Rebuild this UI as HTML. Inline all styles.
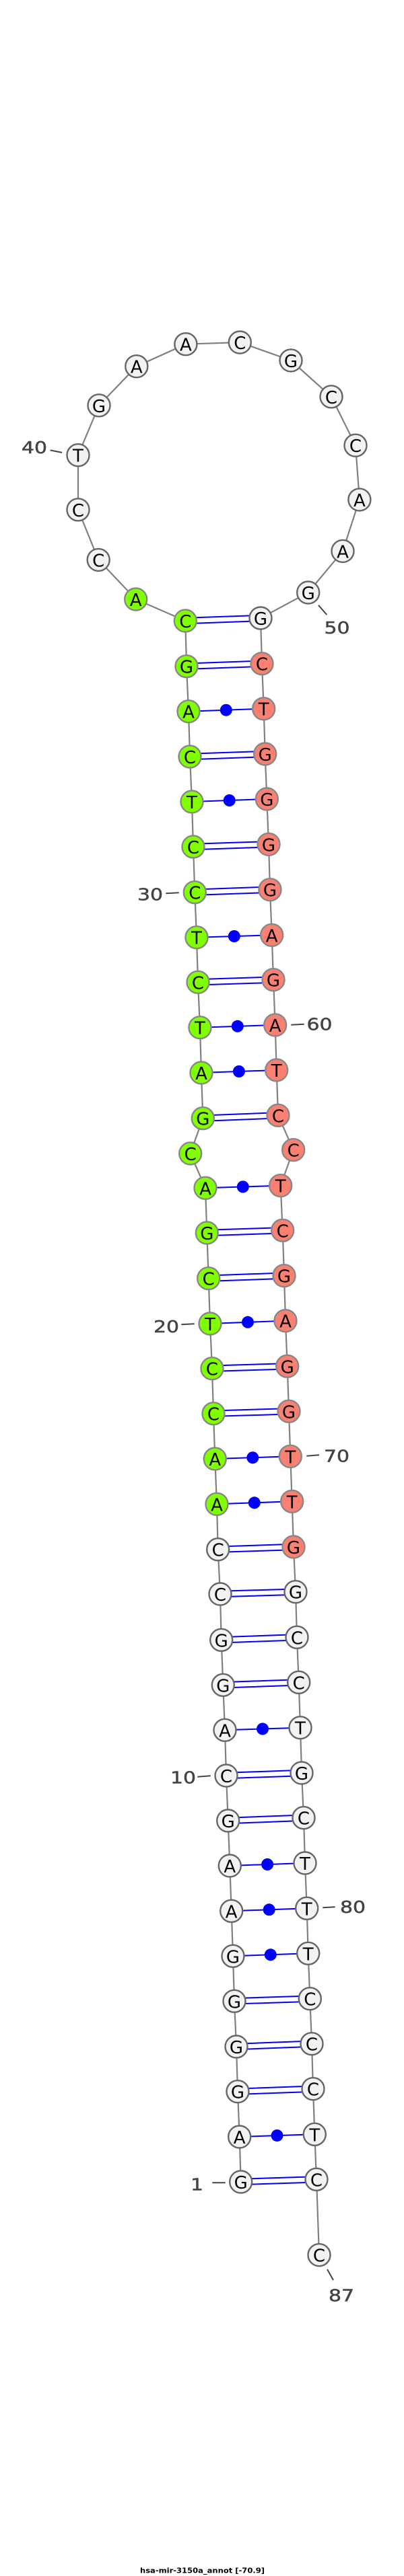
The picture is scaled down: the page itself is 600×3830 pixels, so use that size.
<!DOCTYPE html>
<html><head><meta charset="utf-8"><style>
html,body{margin:0;padding:0;background:#fff}
svg{display:block}
.g{fill:#7fff00;stroke:#888;stroke-width:2.4}
.s{fill:#fa8072;stroke:#888;stroke-width:2.4}
.w{fill:#f2f2f2;stroke:#666;stroke-width:2.4}
.n{font:26px "DejaVu Sans",sans-serif;fill:#000;text-anchor:middle}
.l{font:25px "DejaVu Sans",sans-serif;fill:#444;stroke:#444;stroke-width:.5}
.t{stroke:#444;stroke-width:2;fill:none}
.b{stroke:#00f;stroke-width:2;fill:none}
.d{fill:#00f}
</style></head><body>
<svg width="600" height="3830" viewBox="0 0 600 3830" xmlns="http://www.w3.org/2000/svg">
<polyline fill="none" stroke="#808080" stroke-width="2.2" points="357.7,3244 355.7,3177 353,3109.7 351,3043 348,2975.3 346,2908.3 343.7,2841.3 341.3,2774 338.7,2707 336,2640 334,2572.3 331.3,2505.3 328.7,2438.3 327,2370 323.7,2303.7 322,2236.3 319.3,2169 317,2101.7 315,2034.7 312,1968 309.7,1900.7 307.3,1833 305,1766.3 282.7,1715 301.3,1662.7 299,1595 297,1527.7 294,1460.3 292,1393.7 289.3,1326.7 287,1259 285,1192 282,1125 280,1057.7 277,990.7 275.3,923 201.7,891 146.2,832.4 116,757.8 116,676.7 147,602.8 202.8,544.7 275.9,511.7 356.3,509 432,535.9 492,589.8 528,662.2 533.9,742.9 509,819.4 457.7,881 387,919 389,986.7 391.7,1053.7 393.7,1121 396.3,1188 399,1255.3 401,1322.7 403.7,1390.3 406,1456.7 408.7,1524 410.7,1591 413,1658.3 435.7,1709.7 416.7,1762.7 419.7,1829.3 422,1896.7 424,1963.7 426.7,2031.3 429,2098.3 431.3,2165.3 433.7,2232.3 436,2300 439,2366.7 441,2434.3 443.7,2501.3 446,2568.7 448,2636 451,2702.7 453,2770 455.7,2837.3 457.7,2904.3 460.3,2971.7 463,3038.7 465,3105.7 467.3,3173.3 470,3240.3 474,3352.7"/>
<path class="b" d="M275.3 918.8L387 914.8M275.3 927.2L387 923.2
M277 986.5L389 982.5M277 994.9L389 990.9
M280 1057.7L391.7 1053.7
M282 1120.8L393.7 1116.8M282 1129.2L393.7 1125.2
M285 1192L396.3 1188
M287 1254.8L399 1251.1M287 1263.2L399 1259.5
M289.3 1322.5L401 1318.5M289.3 1330.9L401 1326.9
M292 1393.7L403.7 1390.3
M294 1456.1L406 1452.5M294 1464.5L406 1460.9
M297 1527.7L408.7 1524
M299 1595L410.7 1591
M301.3 1658.5L413 1654.1M301.3 1666.9L413 1662.5
M305 1766.3L416.7 1762.7
M307.3 1828.8L419.7 1825.1M307.3 1837.2L419.7 1833.5
M309.7 1896.5L422 1892.5M309.7 1904.9L422 1900.9
M312 1968L424 1963.7
M315 2030.5L426.7 2027.1M315 2038.9L426.7 2035.5
M317 2097.5L429 2094.1M317 2105.9L429 2102.5
M319.3 2169L431.3 2165.3
M322 2236.3L433.7 2232.3
M323.7 2299.5L436 2295.8M323.7 2307.9L436 2304.2
M327 2365.8L439 2362.5M327 2374.2L439 2370.9
M328.7 2434.1L441 2430.1M328.7 2442.5L441 2438.5
M331.3 2501.1L443.7 2497.1M331.3 2509.5L443.7 2505.5
M334 2572.3L446 2568.7
M336 2635.8L448 2631.8M336 2644.2L448 2640.2
M338.7 2702.8L451 2698.5M338.7 2711.2L451 2706.9
M341.3 2774L453 2770
M343.7 2841.3L455.7 2837.3
M346 2908.3L457.7 2904.3
M348 2971.1L460.3 2967.5M348 2979.5L460.3 2975.9
M351 3038.8L463 3034.5M351 3047.2L463 3042.9
M353 3105.5L465 3101.5M353 3113.9L465 3109.9
M355.7 3177L467.3 3173.3
M357.7 3239.8L470 3236.1M357.7 3248.2L470 3244.5"/>
<g class="d">
<circle cx="335.8" cy="1055.7" r="9"/>
<circle cx="340.7" cy="1190" r="9"/>
<circle cx="347.8" cy="1392" r="9"/>
<circle cx="352.8" cy="1525.8" r="9"/>
<circle cx="354.9" cy="1593" r="9"/>
<circle cx="360.8" cy="1764.5" r="9"/>
<circle cx="368" cy="1965.8" r="9"/>
<circle cx="375.3" cy="2167.2" r="9"/>
<circle cx="377.8" cy="2234.3" r="9"/>
<circle cx="390" cy="2570.5" r="9"/>
<circle cx="397.1" cy="2772" r="9"/>
<circle cx="399.7" cy="2839.3" r="9"/>
<circle cx="401.8" cy="2906.3" r="9"/>
<circle cx="411.5" cy="3175.1" r="9"/>
</g>
<g>
<circle class="g" cx="201.7" cy="891" r="16.5"/>
<circle class="w" cx="146.2" cy="832.4" r="16.5"/>
<circle class="w" cx="116" cy="757.8" r="16.5"/>
<circle class="w" cx="116" cy="676.7" r="16.5"/>
<circle class="w" cx="147" cy="602.8" r="16.5"/>
<circle class="w" cx="202.8" cy="544.7" r="16.5"/>
<circle class="w" cx="275.9" cy="511.7" r="16.5"/>
<circle class="w" cx="356.3" cy="509" r="16.5"/>
<circle class="w" cx="432" cy="535.9" r="16.5"/>
<circle class="w" cx="492" cy="589.8" r="16.5"/>
<circle class="w" cx="528" cy="662.2" r="16.5"/>
<circle class="w" cx="533.9" cy="742.9" r="16.5"/>
<circle class="w" cx="509" cy="819.4" r="16.5"/>
<circle class="w" cx="457.7" cy="881" r="16.5"/>
<circle class="w" cx="387" cy="919" r="16.5"/>
<circle class="g" cx="275.3" cy="923" r="16.5"/>
<circle class="g" cx="277" cy="990.7" r="16.5"/>
<circle class="s" cx="389" cy="986.7" r="16.5"/>
<circle class="g" cx="280" cy="1057.7" r="16.5"/>
<circle class="s" cx="391.7" cy="1053.7" r="16.5"/>
<circle class="g" cx="282" cy="1125" r="16.5"/>
<circle class="s" cx="393.7" cy="1121" r="16.5"/>
<circle class="g" cx="285" cy="1192" r="16.5"/>
<circle class="s" cx="396.3" cy="1188" r="16.5"/>
<circle class="g" cx="287" cy="1259" r="16.5"/>
<circle class="s" cx="399" cy="1255.3" r="16.5"/>
<circle class="g" cx="289.3" cy="1326.7" r="16.5"/>
<circle class="s" cx="401" cy="1322.7" r="16.5"/>
<circle class="g" cx="292" cy="1393.7" r="16.5"/>
<circle class="s" cx="403.7" cy="1390.3" r="16.5"/>
<circle class="g" cx="294" cy="1460.3" r="16.5"/>
<circle class="s" cx="406" cy="1456.7" r="16.5"/>
<circle class="g" cx="297" cy="1527.7" r="16.5"/>
<circle class="s" cx="408.7" cy="1524" r="16.5"/>
<circle class="g" cx="299" cy="1595" r="16.5"/>
<circle class="s" cx="410.7" cy="1591" r="16.5"/>
<circle class="g" cx="301.3" cy="1662.7" r="16.5"/>
<circle class="s" cx="413" cy="1658.3" r="16.5"/>
<circle class="g" cx="282.7" cy="1715" r="16.5"/>
<circle class="s" cx="435.7" cy="1709.7" r="16.5"/>
<circle class="g" cx="305" cy="1766.3" r="16.5"/>
<circle class="s" cx="416.7" cy="1762.7" r="16.5"/>
<circle class="g" cx="307.3" cy="1833" r="16.5"/>
<circle class="s" cx="419.7" cy="1829.3" r="16.5"/>
<circle class="g" cx="309.7" cy="1900.7" r="16.5"/>
<circle class="s" cx="422" cy="1896.7" r="16.5"/>
<circle class="g" cx="312" cy="1968" r="16.5"/>
<circle class="s" cx="424" cy="1963.7" r="16.5"/>
<circle class="g" cx="315" cy="2034.7" r="16.5"/>
<circle class="s" cx="426.7" cy="2031.3" r="16.5"/>
<circle class="g" cx="317" cy="2101.7" r="16.5"/>
<circle class="s" cx="429" cy="2098.3" r="16.5"/>
<circle class="g" cx="319.3" cy="2169" r="16.5"/>
<circle class="s" cx="431.3" cy="2165.3" r="16.5"/>
<circle class="g" cx="322" cy="2236.3" r="16.5"/>
<circle class="s" cx="433.7" cy="2232.3" r="16.5"/>
<circle class="w" cx="323.7" cy="2303.7" r="16.5"/>
<circle class="s" cx="436" cy="2300" r="16.5"/>
<circle class="w" cx="327" cy="2370" r="16.5"/>
<circle class="w" cx="439" cy="2366.7" r="16.5"/>
<circle class="w" cx="328.7" cy="2438.3" r="16.5"/>
<circle class="w" cx="441" cy="2434.3" r="16.5"/>
<circle class="w" cx="331.3" cy="2505.3" r="16.5"/>
<circle class="w" cx="443.7" cy="2501.3" r="16.5"/>
<circle class="w" cx="334" cy="2572.3" r="16.5"/>
<circle class="w" cx="446" cy="2568.7" r="16.5"/>
<circle class="w" cx="336" cy="2640" r="16.5"/>
<circle class="w" cx="448" cy="2636" r="16.5"/>
<circle class="w" cx="338.7" cy="2707" r="16.5"/>
<circle class="w" cx="451" cy="2702.7" r="16.5"/>
<circle class="w" cx="341.3" cy="2774" r="16.5"/>
<circle class="w" cx="453" cy="2770" r="16.5"/>
<circle class="w" cx="343.7" cy="2841.3" r="16.5"/>
<circle class="w" cx="455.7" cy="2837.3" r="16.5"/>
<circle class="w" cx="346" cy="2908.3" r="16.5"/>
<circle class="w" cx="457.7" cy="2904.3" r="16.5"/>
<circle class="w" cx="348" cy="2975.3" r="16.5"/>
<circle class="w" cx="460.3" cy="2971.7" r="16.5"/>
<circle class="w" cx="351" cy="3043" r="16.5"/>
<circle class="w" cx="463" cy="3038.7" r="16.5"/>
<circle class="w" cx="353" cy="3109.7" r="16.5"/>
<circle class="w" cx="465" cy="3105.7" r="16.5"/>
<circle class="w" cx="355.7" cy="3177" r="16.5"/>
<circle class="w" cx="467.3" cy="3173.3" r="16.5"/>
<circle class="w" cx="357.7" cy="3244" r="16.5"/>
<circle class="w" cx="470" cy="3240.3" r="16.5"/>
<circle class="w" cx="474" cy="3352.7" r="16.5"/>
</g>
<g>
<text class="n" x="201.7" y="901">A</text>
<text class="n" x="146.2" y="842.4">C</text>
<text class="n" x="116" y="767.8">C</text>
<text class="n" x="116" y="686.7">T</text>
<text class="n" x="147" y="612.8">G</text>
<text class="n" x="202.8" y="554.7">A</text>
<text class="n" x="275.9" y="521.7">A</text>
<text class="n" x="356.3" y="519">C</text>
<text class="n" x="432" y="545.9">G</text>
<text class="n" x="492" y="599.8">C</text>
<text class="n" x="528" y="672.2">C</text>
<text class="n" x="533.9" y="752.9">A</text>
<text class="n" x="509" y="829.4">A</text>
<text class="n" x="457.7" y="891">G</text>
<text class="n" x="387" y="929">G</text>
<text class="n" x="275.3" y="933">C</text>
<text class="n" x="277" y="1000.7">G</text>
<text class="n" x="389" y="996.7">C</text>
<text class="n" x="280" y="1067.7">A</text>
<text class="n" x="391.7" y="1063.7">T</text>
<text class="n" x="282" y="1135">C</text>
<text class="n" x="393.7" y="1131">G</text>
<text class="n" x="285" y="1202">T</text>
<text class="n" x="396.3" y="1198">G</text>
<text class="n" x="287" y="1269">C</text>
<text class="n" x="399" y="1265.3">G</text>
<text class="n" x="289.3" y="1336.7">C</text>
<text class="n" x="401" y="1332.7">G</text>
<text class="n" x="292" y="1403.7">T</text>
<text class="n" x="403.7" y="1400.3">A</text>
<text class="n" x="294" y="1470.3">C</text>
<text class="n" x="406" y="1466.7">G</text>
<text class="n" x="297" y="1537.7">T</text>
<text class="n" x="408.7" y="1534">A</text>
<text class="n" x="299" y="1605">A</text>
<text class="n" x="410.7" y="1601">T</text>
<text class="n" x="301.3" y="1672.7">G</text>
<text class="n" x="413" y="1668.3">C</text>
<text class="n" x="282.7" y="1725">C</text>
<text class="n" x="435.7" y="1719.7">C</text>
<text class="n" x="305" y="1776.3">A</text>
<text class="n" x="416.7" y="1772.7">T</text>
<text class="n" x="307.3" y="1843">G</text>
<text class="n" x="419.7" y="1839.3">C</text>
<text class="n" x="309.7" y="1910.7">C</text>
<text class="n" x="422" y="1906.7">G</text>
<text class="n" x="312" y="1978">T</text>
<text class="n" x="424" y="1973.7">A</text>
<text class="n" x="315" y="2044.7">C</text>
<text class="n" x="426.7" y="2041.3">G</text>
<text class="n" x="317" y="2111.7">C</text>
<text class="n" x="429" y="2108.3">G</text>
<text class="n" x="319.3" y="2179">A</text>
<text class="n" x="431.3" y="2175.3">T</text>
<text class="n" x="322" y="2246.3">A</text>
<text class="n" x="433.7" y="2242.3">T</text>
<text class="n" x="323.7" y="2313.7">C</text>
<text class="n" x="436" y="2310">G</text>
<text class="n" x="327" y="2380">C</text>
<text class="n" x="439" y="2376.7">G</text>
<text class="n" x="328.7" y="2448.3">G</text>
<text class="n" x="441" y="2444.3">C</text>
<text class="n" x="331.3" y="2515.3">G</text>
<text class="n" x="443.7" y="2511.3">C</text>
<text class="n" x="334" y="2582.3">A</text>
<text class="n" x="446" y="2578.7">T</text>
<text class="n" x="336" y="2650">C</text>
<text class="n" x="448" y="2646">G</text>
<text class="n" x="338.7" y="2717">G</text>
<text class="n" x="451" y="2712.7">C</text>
<text class="n" x="341.3" y="2784">A</text>
<text class="n" x="453" y="2780">T</text>
<text class="n" x="343.7" y="2851.3">A</text>
<text class="n" x="455.7" y="2847.3">T</text>
<text class="n" x="346" y="2918.3">G</text>
<text class="n" x="457.7" y="2914.3">T</text>
<text class="n" x="348" y="2985.3">G</text>
<text class="n" x="460.3" y="2981.7">C</text>
<text class="n" x="351" y="3053">G</text>
<text class="n" x="463" y="3048.7">C</text>
<text class="n" x="353" y="3119.7">G</text>
<text class="n" x="465" y="3115.7">C</text>
<text class="n" x="355.7" y="3187">A</text>
<text class="n" x="467.3" y="3183.3">T</text>
<text class="n" x="357.7" y="3254">G</text>
<text class="n" x="470" y="3250.3">C</text>
<text class="n" x="474" y="3362.7">C</text>
</g>
<path class="t" d="M74.6 669.4L92.2 672.9M473 899.8L485.3 914M246.3 1328.3L265.7 1327.3M432.3 1523.7L451.7 1522.7M269.3 1969.3L288.7 1968.3M455.3 2164.7L474 2163.3M293.3 2641.7L312.7 2640.3M479.3 2836.3L497.7 2835.3M315.3 3245.3L334.7 3245.3M486 3374L495 3390"/>
<text class="l" x="32" y="674" textLength="38" lengthAdjust="spacingAndGlyphs">40</text>
<text class="l" x="481.5" y="942" textLength="38" lengthAdjust="spacingAndGlyphs">50</text>
<text class="l" x="204" y="1338.3" textLength="38" lengthAdjust="spacingAndGlyphs">30</text>
<text class="l" x="455.5" y="1531.7" textLength="38" lengthAdjust="spacingAndGlyphs">60</text>
<text class="l" x="228" y="1981" textLength="38" lengthAdjust="spacingAndGlyphs">20</text>
<text class="l" x="481" y="2173.3" textLength="38" lengthAdjust="spacingAndGlyphs">70</text>
<text class="l" x="253" y="2651.7" textLength="38" lengthAdjust="spacingAndGlyphs">10</text>
<text class="l" x="505" y="2844" textLength="38" lengthAdjust="spacingAndGlyphs">80</text>
<text class="l" x="283" y="3256.7" textLength="19" lengthAdjust="spacingAndGlyphs">1</text>
<text class="l" x="488" y="3421.7" textLength="38" lengthAdjust="spacingAndGlyphs">87</text>
<text x="208" y="3825.5" textLength="185" lengthAdjust="spacingAndGlyphs" style="font:bold 11px 'DejaVu Sans',sans-serif;fill:#000">hsa-mir-3150a_annot [-70.9]</text>
</svg>
</body></html>
